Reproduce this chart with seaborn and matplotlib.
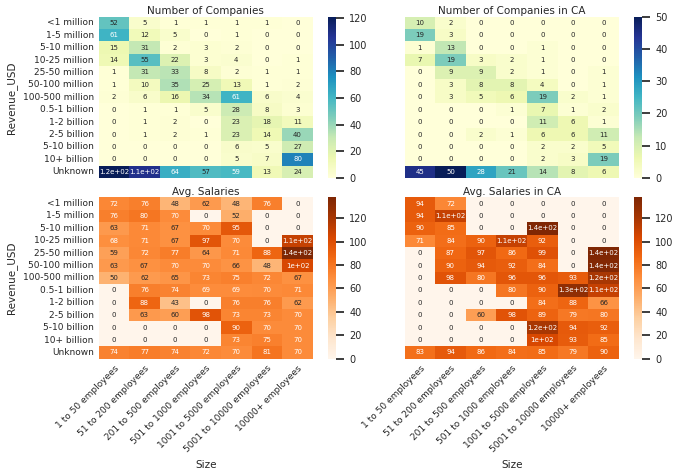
import numpy as np
import pandas as pd
import matplotlib
matplotlib.use("Agg")
import matplotlib.pyplot as plt
import seaborn as sns

# ==========================================
# DATA
# ==========================================

revenue = ['<1 million', '1-5 million', '5-10 million', '10-25 million',
           '25-50 million', '50-100 million', '100-500 million',
           '0.5-1 billion', '1-2 billion', '2-5 billion', '5-10 billion',
           '10+ billion', 'Unknown']

sizes = ['1 to 50 employees', '51 to 200 employees', '201 to 500 employees',
         '501 to 1000 employees', '1001 to 5000 employees',
         '5001 to 10000 employees', '10000+ employees']

count_all = [
    [52, 5, 1, 1, 1, 1, 0],
    [61, 12, 5, 0, 1, 0, 0],
    [15, 31, 2, 3, 2, 0, 0],
    [14, 55, 22, 3, 4, 0, 1],
    [1, 31, 33, 8, 2, 1, 1],
    [1, 10, 35, 25, 13, 1, 2],
    [2, 6, 16, 34, 61, 6, 4],
    [0, 1, 1, 5, 28, 8, 3],
    [0, 1, 2, 0, 23, 18, 11],
    [0, 1, 2, 1, 23, 14, 40],
    [0, 0, 0, 0, 6, 5, 27],
    [0, 0, 0, 0, 5, 7, 80],
    [121, 108, 64, 57, 59, 13, 24],
]

count_ca = [
    [10, 2, 0, 0, 0, 0, 0],
    [19, 3, 0, 0, 0, 0, 0],
    [1, 13, 0, 0, 1, 0, 0],
    [7, 19, 3, 2, 1, 0, 0],
    [0, 9, 9, 2, 1, 0, 1],
    [0, 3, 8, 8, 4, 0, 1],
    [0, 3, 5, 6, 19, 2, 1],
    [0, 0, 0, 1, 7, 1, 2],
    [0, 0, 0, 0, 11, 6, 1],
    [0, 0, 2, 1, 6, 6, 11],
    [0, 0, 0, 0, 2, 2, 5],
    [0, 0, 0, 0, 2, 3, 19],
    [45, 50, 28, 21, 14, 8, 6],
]

salary_all = [
    [72, 76, 48, 62, 48, 76, 0],
    [76, 80, 70, 0, 52, 0, 0],
    [63, 71, 67, 70, 95, 0, 0],
    [68, 71, 67, 97, 70, 0, 110],
    [59, 72, 77, 64, 71, 88, 138],
    [63, 67, 70, 70, 66, 48, 104],
    [50, 62, 65, 73, 75, 72, 67],
    [0, 76, 74, 69, 69, 70, 71],
    [0, 88, 43, 0, 76, 76, 62],
    [0, 63, 60, 98, 73, 73, 70],
    [0, 0, 0, 0, 90, 70, 70],
    [0, 0, 0, 0, 73, 75, 70],
    [74, 77, 74, 72, 70, 81, 70],
]

salary_ca = [
    [94, 72, 0, 0, 0, 0, 0],
    [94, 110, 0, 0, 0, 0, 0],
    [90, 85, 0, 0, 137, 0, 0],
    [71, 84, 90, 110, 92, 0, 0],
    [0, 87, 97, 86, 99, 0, 138],
    [0, 90, 94, 92, 84, 0, 136],
    [0, 98, 80, 96, 96, 93, 120],
    [0, 0, 0, 80, 90, 130, 110],
    [0, 0, 0, 0, 84, 88, 66],
    [0, 0, 60, 98, 89, 79, 80],
    [0, 0, 0, 0, 120, 94, 92],
    [0, 0, 0, 0, 104, 93, 85],
    [83, 94, 86, 84, 85, 79, 90],
]

# ==========================================
# PLOT
# ==========================================

sns.set_theme(style='white')

fig, axes = plt.subplots(2, 2, figsize=(6.8, 4.75), dpi=100)

panels = [
    (axes[0, 0], count_all, 'Number of Companies', 'YlGnBu'),
    (axes[0, 1], count_ca, 'Number of Companies in CA', 'YlGnBu'),
    (axes[1, 0], salary_all, 'Avg. Salaries', 'Oranges'),
    (axes[1, 1], salary_ca, 'Avg. Salaries in CA', 'Oranges'),
]

for i, (ax, values, title, cmap) in enumerate(panels):
    df = pd.DataFrame(values, index=revenue, columns=sizes)
    sns.heatmap(df, ax=ax, cmap=cmap, annot=True, annot_kws={'size': 5},
                xticklabels=True, yticklabels=True,
                cbar_kws={'pad': 0.06, 'fraction': 0.1})
    ax.set_title(title, fontsize=7.5, pad=2)
    ax.collections[0].colorbar.ax.tick_params(labelsize=7)
    row, col = divmod(i, 2)
    if row == 0:
        ax.set_xticklabels([])
        ax.set_xlabel('')
    else:
        ax.set_xticklabels(sizes, rotation=45, ha='right', fontsize=6.5,
                           rotation_mode='anchor')
        ax.set_xlabel('Size', fontsize=7.5)
    if col == 0:
        ax.set_yticklabels(revenue, fontsize=6.5, rotation=0)
        ax.set_ylabel('Revenue_USD', fontsize=7.5)
    else:
        ax.set_yticklabels([])
        ax.set_ylabel('')
    ax.tick_params(length=0)

plt.subplots_adjust(left=0.145, right=0.97, top=0.965, bottom=0.245,
                    wspace=0.2, hspace=0.12)

plt.savefig('out.png')
